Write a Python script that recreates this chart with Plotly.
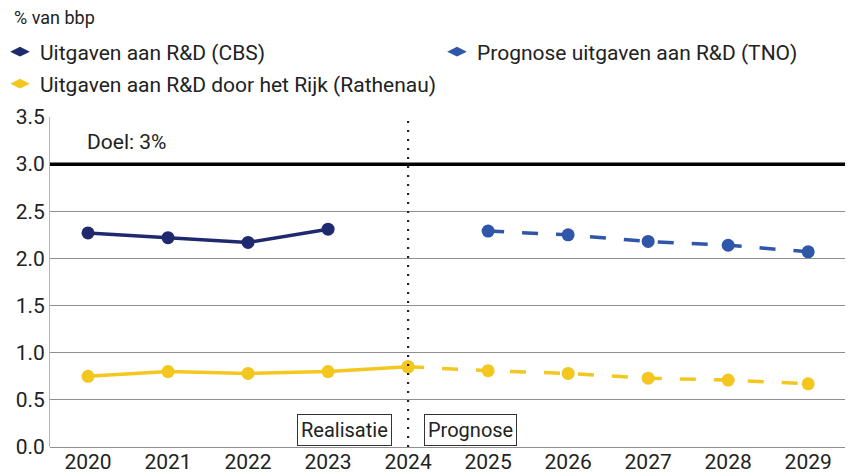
import plotly.graph_objects as go

years = [2020, 2021, 2022, 2023, 2024, 2025, 2026, 2027, 2028, 2029]
cbs_years = [2020, 2021, 2022, 2023]
cbs_values = [2.27, 2.22, 2.17, 2.31]
tno_years = [2025, 2026, 2027, 2028, 2029]
tno_values = [2.29, 2.25, 2.18, 2.14, 2.07]
rijk_real_years = [2020, 2021, 2022, 2023, 2024]
rijk_real_values = [0.75, 0.80, 0.78, 0.80, 0.85]
rijk_prog_years = [2024, 2025, 2026, 2027, 2028, 2029]
rijk_prog_values = [0.85, 0.81, 0.78, 0.73, 0.71, 0.67]
target = 3.0

NAVY = "#1f2a6e"
BLUE = "#2f56a8"
YELLOW = "#f3c71f"
FONT = "Roboto"
TXT = "#222222"
DASH = "16px,18px"

W, H = 849, 476
ML, MR, MT, MB = 50, 4, 117, 29
PH = H - MT - MB
PW = W - ML - MR

fig = go.Figure()

fig.add_trace(go.Scatter(x=cbs_years, y=cbs_values, mode="lines+markers",
                         line=dict(color=NAVY, width=3.5), marker=dict(size=13, color=NAVY),
                         showlegend=False))
fig.add_trace(go.Scatter(x=tno_years, y=tno_values, mode="lines+markers",
                         line=dict(color=BLUE, width=3.5, dash=DASH), marker=dict(size=13, color=BLUE),
                         showlegend=False))
fig.add_trace(go.Scatter(x=rijk_prog_years, y=rijk_prog_values, mode="lines+markers",
                         line=dict(color=YELLOW, width=3.5, dash=DASH), marker=dict(size=13, color=YELLOW),
                         showlegend=False))
fig.add_trace(go.Scatter(x=rijk_real_years, y=rijk_real_values, mode="lines+markers",
                         line=dict(color=YELLOW, width=3.5), marker=dict(size=13, color=YELLOW),
                         showlegend=False))

legend_items = [("Uitgaven aan R&D (CBS)", NAVY, "legend"),
                ("Prognose uitgaven aan R&D (TNO)", BLUE, "legend2"),
                ("Uitgaven aan R&D door het Rijk (Rathenau)", YELLOW, "legend3")]
for name, col, lg in legend_items:
    fig.add_trace(go.Scatter(x=[None], y=[None], mode="markers", name=name, legend=lg,
                             marker=dict(size=14, color=col, symbol="diamond-wide")))

fig.add_shape(type="line", xref="paper", x0=0, x1=1, yref="y", y0=target, y1=target,
              line=dict(color="black", width=3.5))
fig.add_shape(type="line", xref="x", x0=2024, x1=2024, yref="paper", y0=0, y1=1,
              line=dict(color="#222222", width=2.2, dash="2px,7px"))

fig.add_annotation(x=2020, y=3.23, xref="x", yref="y", text="Doel: 3%", showarrow=False,
                   xanchor="left", yanchor="middle", xshift=-3, font=dict(family=FONT, size=21, color=TXT))
fig.add_annotation(x=2024, y=0, xref="x", yref="y", text="Realisatie", showarrow=False,
                   xanchor="right", yanchor="bottom", xshift=-16, yshift=1,
                   bordercolor="#333", borderwidth=1, borderpad=3, bgcolor="white",
                   font=dict(family=FONT, size=20, color=TXT))
fig.add_annotation(x=2024, y=0, xref="x", yref="y", text="Prognose", showarrow=False,
                   xanchor="left", yanchor="bottom", xshift=16, yshift=1,
                   bordercolor="#333", borderwidth=1, borderpad=3, bgcolor="white",
                   font=dict(family=FONT, size=20, color=TXT))
fig.add_annotation(x=(12 - ML) / PW, y=1 + (MT - 18) / PH, xref="paper", yref="paper",
                   text="% van bbp", showarrow=False, xanchor="left", yanchor="middle",
                   font=dict(family=FONT, size=18, color=TXT))

legfont = dict(family=FONT, size=21, color=TXT)
fig.update_layout(
    width=W, height=H,
    margin=dict(l=ML, r=MR, t=MT, b=MB, autoexpand=False),
    paper_bgcolor="white", plot_bgcolor="white",
    font=dict(family=FONT, color=TXT),
    legend=dict(xref="container", yref="container", x=0.0, y=1 - 52 / H,
                xanchor="left", yanchor="middle", font=legfont, itemwidth=30, bgcolor="rgba(0,0,0,0)"),
    legend2=dict(xref="container", yref="container", x=437 / W, y=1 - 52 / H,
                 xanchor="left", yanchor="middle", font=legfont, itemwidth=30, bgcolor="rgba(0,0,0,0)"),
    legend3=dict(xref="container", yref="container", x=0.0, y=1 - 84 / H,
                 xanchor="left", yanchor="middle", font=legfont, itemwidth=30, bgcolor="rgba(0,0,0,0)"),
    xaxis=dict(range=[2019.525, 2029.46], tickvals=years, ticktext=[str(y) for y in years],
               showgrid=False, zeroline=False, showline=False, ticks="",
               tickfont=dict(family=FONT, size=21, color=TXT)),
    yaxis=dict(range=[0, 3.5], dtick=0.5, tickformat=".1f", showgrid=True, gridcolor="#8f8f8f",
               gridwidth=1.2, zeroline=True, zerolinecolor="#8f8f8f", zerolinewidth=1.2,
               showline=True, linecolor="#b5b5b5", linewidth=1, ticks="",
               tickfont=dict(family=FONT, size=21, color=TXT)),
)

# remove the default 8px page margin so the full 849x476 figure fits in the window
fig.write_html("out.html", config={"displayModeBar": False},
               post_script="document.body.style.margin='0';")
